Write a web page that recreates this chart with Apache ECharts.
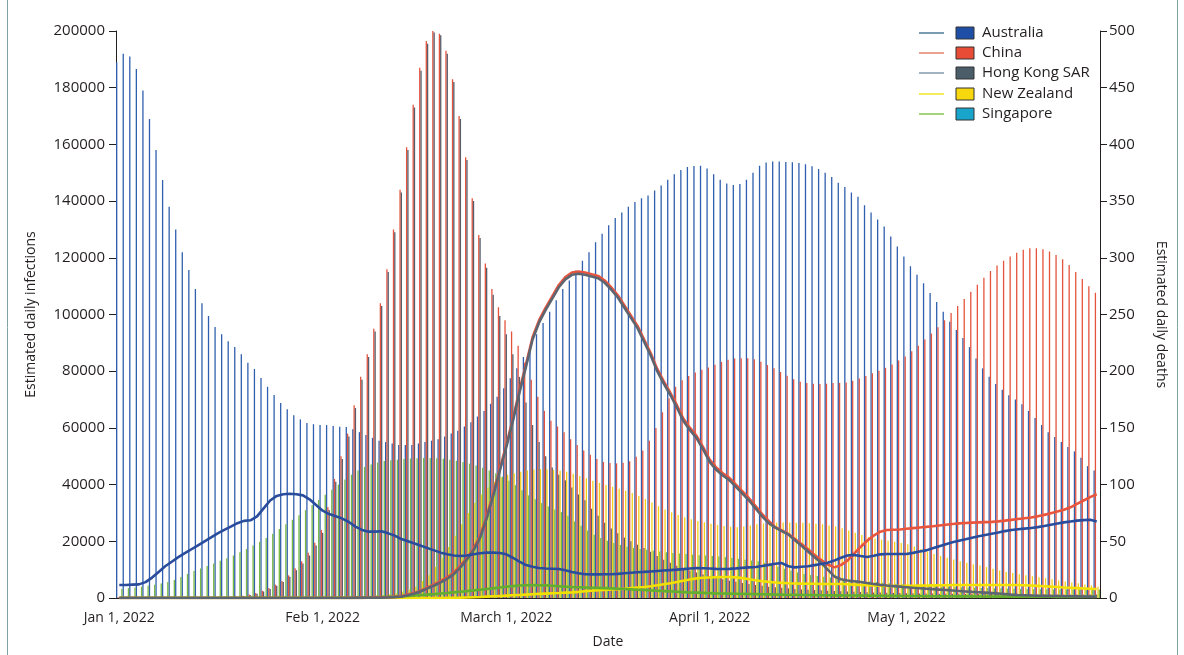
<!DOCTYPE html>
<html>
<head>
<meta charset="utf-8">
<script src="https://cdn.jsdelivr.net/npm/echarts@6/dist/echarts.min.js"></script>
<style>
html,body{margin:0;padding:0;background:#fff;}
#chart{width:1184px;height:655px;}
</style>
</head>
<body>
<div id="chart"></div>
<script>
// ---------- DATA ----------
const startDate = '2022-01-01';
const dayCount = 150;
const tickLabels = {
  '2022-01-01': 'Jan 1, 2022',
  '2022-02-01': 'Feb 1, 2022',
  '2022-03-01': 'March 1, 2022',
  '2022-04-01': 'April 1, 2022',
  '2022-05-01': 'May 1, 2022'
};
const countries = ['Australia', 'China', 'Hong Kong SAR', 'New Zealand', 'Singapore'];

// Estimated daily infections (left axis)
const infAustralia = [
189000,192000,191000,186600,179000,169000,158000,147400,138000,130000,
122000,115700,109000,104000,99500,95600,93000,90600,88500,86000,
83000,80800,77600,74500,71600,68800,66600,64500,63000,61700,
61300,61000,61000,60700,60400,60300,59500,58500,57500,56500,
55500,55000,54500,54000,54000,54000,54500,55000,55500,56000,
57000,58000,59000,60500,62000,64000,66000,68500,71000,74000,
77500,81000,85000,89000,93000,97000,101000,105000,109000,112000,
115500,119000,122000,125500,128500,131500,134000,136000,138000,139700,
141000,142000,143700,145500,147500,149500,151000,152000,152400,152500,
151500,149500,147500,146200,145700,146000,147500,150000,152500,153600,
154000,154000,153800,153700,153400,153000,152300,151300,150000,148500,
146500,145000,143000,141500,138500,136000,133500,131000,127500,124000,
120500,117000,114000,111000,107600,104400,101000,97400,94500,91700,
88500,84500,81000,78000,75500,73500,71500,70000,68300,66000,
63500,61000,58500,56800,55000,53300,51700,49500,46500,45000];

const infChina = [
300,300,300,300,300,300,300,300,300,300,
300,300,300,300,300,300,350,400,500,800,
1200,1800,2600,3500,4700,6000,8000,10500,13000,16000,
19500,24000,32000,42000,50000,58000,68000,78000,86000,95000,
104000,116000,130000,144000,159000,174000,187000,196500,200000,199000,
193000,183000,170000,155500,141000,128000,118000,109000,102600,98000,
94000,89000,83000,77000,71000,66000,62500,60500,58500,56000,
54000,52000,50500,49000,48000,47600,47500,47700,48200,49800,
52000,55500,60000,65500,70500,74500,76800,78300,79500,80500,
81300,82300,83300,84000,84500,84600,84600,84200,83300,82200,
81000,79700,78400,77200,76300,75800,75600,75500,75600,75800,
75900,76000,76600,77400,78300,79300,80200,81200,82400,83800,
85200,87000,89000,91200,93300,95500,98000,100500,103000,105500,
108000,110500,113000,115300,117300,119000,120500,121800,122800,123400,
123400,123000,122200,121000,119500,117500,115000,112500,110000,107700];

const infHongKong = [
100,100,100,100,100,100,100,100,100,100,
100,100,100,100,100,100,150,200,300,600,
1000,1500,2300,3200,4300,5600,7500,9800,12200,15000,
18500,23000,31000,41000,49000,57000,67000,77000,85000,94000,
103000,115000,129000,143000,158000,173000,186000,195500,199500,198500,
192000,182000,169000,154500,140000,127000,116500,107000,99500,93000,
86000,78000,69000,61000,55000,50000,46000,43500,41500,39000,
36500,34500,31500,29000,26500,24500,22800,21300,20000,18800,
17600,16300,14800,13500,12400,11400,10500,9700,9000,8300,
7700,7100,6600,6100,5700,5300,4900,4600,4300,4000,
3800,3600,3400,3200,3000,2900,2800,2700,2600,2500,
2400,2300,2200,2100,2000,1950,1900,1850,1800,1750,
1700,1650,1600,1580,1560,1540,1520,1500,1480,1460,
1440,1420,1400,1380,1360,1340,1320,1300,1290,1280,
1270,1260,1250,1240,1230,1220,1210,1200,1200,1200];

const infNewZealand = [
100,100,100,100,100,100,100,100,100,100,
100,100,100,100,100,100,100,100,100,100,
150,150,150,200,200,200,250,250,300,300,
350,400,400,450,500,550,600,700,800,900,
1000,1300,1700,2300,3000,4000,6000,8000,11000,14000,
18000,22000,26000,30000,33500,36500,39000,41000,42500,43500,
44000,44500,45000,45300,45500,45400,45200,44900,44500,43800,
43000,42200,41400,40600,39900,39200,38500,37800,37000,36000,
34900,33700,32400,31200,30200,29300,28500,27800,27200,26700,
26200,25800,25400,25100,25000,25200,25600,26000,26300,26500,
26600,26600,26600,26500,26500,26400,26200,26000,25600,25200,
24600,23800,23000,22200,21500,21000,20600,20200,19800,19400,
19000,18200,17300,16400,15500,14800,14200,13600,13000,12400,
11900,11500,10900,10300,9700,9200,8800,8400,8000,7700,
7300,7000,6600,6200,5800,5500,5200,4800,4400,4000];

const infSingapore = [
3300,3500,3700,4000,4300,4700,5100,5600,6400,7400,
8500,9500,10400,11300,12200,13100,14000,15000,16100,17300,
18500,19800,21200,22700,24300,26000,27600,29200,31000,32800,
34600,36400,38200,40000,41800,43500,45000,46200,47100,47800,
48300,48600,48800,49000,49200,49300,49400,49400,49300,49100,
48800,48400,48000,47400,46700,45900,45000,44000,42800,41400,
39800,38000,36200,34800,33500,32300,31200,30300,29000,27000,
25500,23800,22300,21200,20200,19400,18700,18100,17700,17300,
17000,16700,16400,16100,15900,15700,15500,15300,15100,15000,
14800,14600,14400,14100,13800,13500,13200,13000,12400,11700,
11000,10300,9600,9000,8500,8100,7800,7500,7200,6900,
6600,6400,6200,6000,5800,5600,5400,5200,5000,4800,
4600,4500,4400,4300,4200,4100,4000,3900,3800,3700,
3600,3500,3500,3400,3400,3300,3300,3200,3200,3100,
3100,3100,3000,3000,3000,3000,3000,3000,3000,3000];

// Estimated daily deaths (right axis)
const deathAustralia = [
11.5,11.5,11.8,12,14,18,23,28,32,36,
39.5,43,46.5,50,53.5,57,60,63,66,68,
68.5,72,79,86,90,91.5,92,91.5,90.5,87,
82,77,74,72,70,67,63,60,58.5,58.5,
58.8,57,55,52,50,48,46,44,42,40,
38.5,37.5,37,37.5,38.5,39.5,40,40,39.7,38.5,
35.5,32,29,27.5,26.5,26,25.8,25.6,24.5,23,
21.8,21,20.8,20.8,20.9,21,21.3,21.8,22.3,22.7,
23,23.4,23.8,24.2,24.6,25,25.5,26,26.4,26.3,
26,25.7,25.6,25.7,26.1,26.6,27,27.4,28.2,29.2,
30.2,30.8,28,27,27.5,28,29,30,31,33,
35.5,37.5,38,37,36.2,37.3,38.5,38.8,38.8,38.8,
38.8,39.8,41,42,43.8,45.7,47.5,49.2,50.5,51.8,
53.2,54.5,55.6,56.7,57.8,59,60,60.6,61.2,61.8,
62.5,63.5,64.6,65.7,66.7,67.5,68.2,68.7,69,67.5];

const deathChina = [
0,0,0,0,0,0,0,0,0,0,
0,0,0,0,0,0,0,0,0,0,
0,0,0,0,0,0,0,0,0,0,
0,0,0,0,0,0,0.1,0.1,0.2,0.3,
0.4,0.7,1,1.5,3,4.5,6.7,9.3,12,15,
18.3,22.5,28.5,35.5,43.5,55,72,92,114,135,
158,183,206,230,245,256,266,276,283,287,
288,287,285.5,284,280,274,267,258,249,240,
228,216,202,191,181,170,158,150,143,133,
122,115,110,106,100,94,88,81,74,68,
62.5,59.5,56.5,52,47.5,43,38,33.5,29.5,27,
29,33,39,45,50.5,55,58.5,60,60.2,60.4,
61,61.6,62.2,62.7,63.3,64,64.6,65.2,65.8,66.2,
66.5,66.7,66.9,67.1,67.6,68.2,68.9,69.6,70.3,71,
72,73.3,74.8,76.3,77.8,80,83,86,89,91.5];

const deathHongKong = [
0,0,0,0,0,0,0,0,0,0,
0,0,0,0,0,0,0,0,0,0,
0,0,0,0,0,0,0,0,0,0,
0,0,0,0,0,0,0.1,0.1,0.2,0.2,
0.3,0.5,0.8,1.2,2.5,4,6,8.5,11,13.8,
17,21,27,34,42,53,70,90,112,133,
156,181,204,228,243,254,264,274,281,285,
286,285,283.5,282,278,272,265,256,247,238,
226,214,200,189,179,168,156,148,141,131,
120,113,108,104,98,92,86,79,72,66,
62,59,56,51,46,41,36,31,25,19,
16.5,15.5,14.8,14.1,13.2,12.4,11.6,11,10.5,10,
9.5,9,8.6,8.2,7.8,7.4,7,6.6,6.2,5.8,
5.4,5.1,4.7,4.3,3.9,3.5,3,2.6,2.4,2.2,
2,1.9,1.8,1.7,1.6,1.5,1.4,1.3,1.2,1.1];

const deathNewZealand = [
0,0,0,0,0,0,0,0,0,0,
0,0,0,0,0,0,0,0,0,0,
0,0,0,0,0,0,0,0,0,0,
0,0,0,0,0,0,0,0,0,0,
0,0,0,0,0,0,0,0,0,0,
0.1,0.2,0.3,0.5,0.7,0.9,1.2,1.5,1.8,2.1,
2.4,2.7,3,3.3,3.6,3.9,4.2,4.4,4.7,5,
5.4,5.9,6.4,6.9,7.2,7.5,7.8,8.2,8.7,9.2,
9.7,10.4,11.2,12.1,13,14.1,15.2,16.3,17.3,17.8,
18.1,18.3,18.5,18.5,18.2,17.5,16.6,15.6,14.8,14.2,
13.7,13.3,13,12.8,12.7,12.6,12.5,12.4,12.4,12.3,
12.3,12.1,11.8,11.5,11.2,11,10.8,10.7,10.6,10.6,
10.7,10.8,10.9,11,11.1,11.2,11.3,11.4,11.5,11.5,
11.5,11.5,11.5,11.5,11.5,11.5,11.5,11.5,11.3,11,
10.7,10.4,10,9.7,9.3,9,8.7,8.4,8.1,7.9];

const deathSingapore = [
0.1,0.1,0.1,0.1,0.1,0.1,0.1,0.1,0.1,0.1,
0.1,0.1,0.1,0.1,0.1,0.1,0.1,0.1,0.1,0.1,
0.1,0.1,0.1,0.1,0.1,0.1,0.1,0.1,0.1,0.1,
0.1,0.1,0.1,0.1,0.1,0.1,0.3,0.4,0.5,0.7,
0.9,1.1,1.3,1.6,1.9,2.2,2.6,3,3.4,3.9,
4.4,5,5.5,6.1,6.7,7.3,7.9,8.5,9.2,9.9,
10.5,11,11.3,11.4,11.3,11.1,10.8,10.4,10,9.7,
9.5,9.3,9.1,8.9,8.7,8.5,8.2,7.9,7.6,7.3,
7,6.7,6.4,6.1,5.8,5.5,5.2,4.9,4.7,4.5,
4.3,4.1,4,3.9,3.7,3.6,3.5,3.4,3.3,3.2,
3.1,3,2.9,2.8,2.7,2.6,2.5,2.4,2.4,2.3,
2.3,2.2,2.2,2.1,2.1,2,2,1.9,1.9,1.8,
1.8,1.7,1.7,1.6,1.6,1.5,1.5,1.5,1.4,1.4,
1.4,1.3,1.3,1.3,1.2,1.2,1.2,1.2,1.1,1.1,
1.1,1.1,1.1,1,1,1,1,1,1,1];

// ---------- STYLE ----------
const barColors = ['#2f5fae', '#e5533d', '#575d6b', '#f3cf1a', '#78b843'];
const lineColors = ['#2a4c9c', '#e8553f', '#5d6570', '#f2e000', '#62ad30'];
const legendLineColors = ['#3e7190', '#e27a62', '#7a93a8', '#f1e21a', '#7bc043'];
const legendBoxColors = ['#1f4ea6', '#e84c36', '#4b5d68', '#f7d80e', '#19a5cb'];
const FONT = '"Open Sans", "Noto Sans", sans-serif';
const TXT = '#231f20';

// categories (calendar days)
const dates = [];
{
  const d0 = new Date(startDate + 'T00:00:00Z');
  for (let i = 0; i < dayCount; i++) {
    const d = new Date(d0.getTime() + i * 86400000);
    dates.push(d.toISOString().slice(0, 10));
  }
}
const isTick = (i) => tickLabels[dates[i]] !== undefined;

const infData = [infAustralia, infChina, infHongKong, infNewZealand, infSingapore];
const deathData = [deathAustralia, deathChina, deathHongKong, deathNewZealand, deathSingapore];

const series = [];
countries.forEach((c, k) => {
  series.push({
    name: c + ' infections', type: 'bar', yAxisIndex: 0,
    data: infData[k], barWidth: 1.3, barGap: '0%',
    itemStyle: { color: barColors[k] }, z: 2, silent: true
  });
});
const lineOrder = [3, 4, 1, 2, 0];
lineOrder.forEach((k, j) => {
  series.push({
    name: countries[k] + ' deaths', type: 'line', yAxisIndex: 1,
    data: deathData[k], showSymbol: false, symbol: 'none',
    lineStyle: { color: lineColors[k], width: 2.6 },
    itemStyle: { color: lineColors[k] }, z: 5 + j, silent: true
  });
});

// legend drawn as graphic
const graphic = [{
  type: 'rect', silent: true,
  shape: { x: 7.5, y: -5, width: 1170, height: 670 },
  style: { fill: 'none', stroke: '#7fa3a3', lineWidth: 1 }
}];
const legendY = [33, 53, 73, 94, 114];
countries.forEach((c, k) => {
  const y = legendY[k];
  graphic.push({ type: 'line', silent: true, shape: { x1: 919, y1: y, x2: 944, y2: y },
    style: { stroke: legendLineColors[k], lineWidth: 1.4 } });
  graphic.push({ type: 'rect', silent: true, shape: { x: 956, y: y - 6, width: 18, height: 12 },
    style: { fill: legendBoxColors[k], stroke: '#333', lineWidth: 1 } });
  graphic.push({ type: 'text', silent: true, x: 982, y: y,
    style: { text: c, fill: TXT, font: '15px ' + FONT, textVerticalAlign: 'middle', verticalAlign: 'middle' } });
});

const chart = echarts.init(document.getElementById('chart'), null, { renderer: 'canvas' });
chart.setOption({
  animation: false,
  backgroundColor: '#fff',
  textStyle: { fontFamily: FONT },
  grid: { left: 116, right: 84, top: 31, bottom: 57 },
  xAxis: {
    type: 'category', data: dates, boundaryGap: true,
    name: 'Date', nameLocation: 'middle', nameGap: 37,
    nameTextStyle: { fontSize: 14, color: TXT, fontFamily: FONT },
    axisLine: { lineStyle: { color: TXT, width: 1 } },
    axisTick: { alignWithLabel: true, interval: (i) => isTick(i), length: 6, lineStyle: { color: TXT } },
    axisLabel: { interval: (i) => isTick(i), formatter: (v) => tickLabels[v] || '',
      fontSize: 14, color: TXT, margin: 13, fontFamily: FONT },
    splitLine: { show: false }
  },
  yAxis: [{
    type: 'value', min: 0, max: 200000, interval: 20000, position: 'left',
    name: 'Estimated daily infections', nameLocation: 'middle', nameGap: 78, nameRotate: 90,
    nameTextStyle: { fontSize: 14, color: TXT, fontFamily: FONT },
    axisLine: { show: true, lineStyle: { color: TXT } },
    axisTick: { show: true, length: 7, lineStyle: { color: TXT } },
    axisLabel: { fontSize: 15, color: TXT, margin: 11, fontFamily: FONT, formatter: (v) => String(v) },
    splitLine: { show: false }
  }, {
    type: 'value', min: 0, max: 500, interval: 50, position: 'right',
    name: 'Estimated daily deaths', nameLocation: 'middle', nameGap: 54, nameRotate: -90,
    nameTextStyle: { fontSize: 14, color: TXT, fontFamily: FONT },
    axisLine: { show: true, lineStyle: { color: TXT } },
    axisTick: { show: true, length: 7, lineStyle: { color: TXT } },
    axisLabel: { fontSize: 15, color: TXT, margin: 9, fontFamily: FONT, formatter: (v) => String(v) },
    splitLine: { show: false }
  }],
  series: series,
  graphic: graphic
});
</script>
</body>
</html>
